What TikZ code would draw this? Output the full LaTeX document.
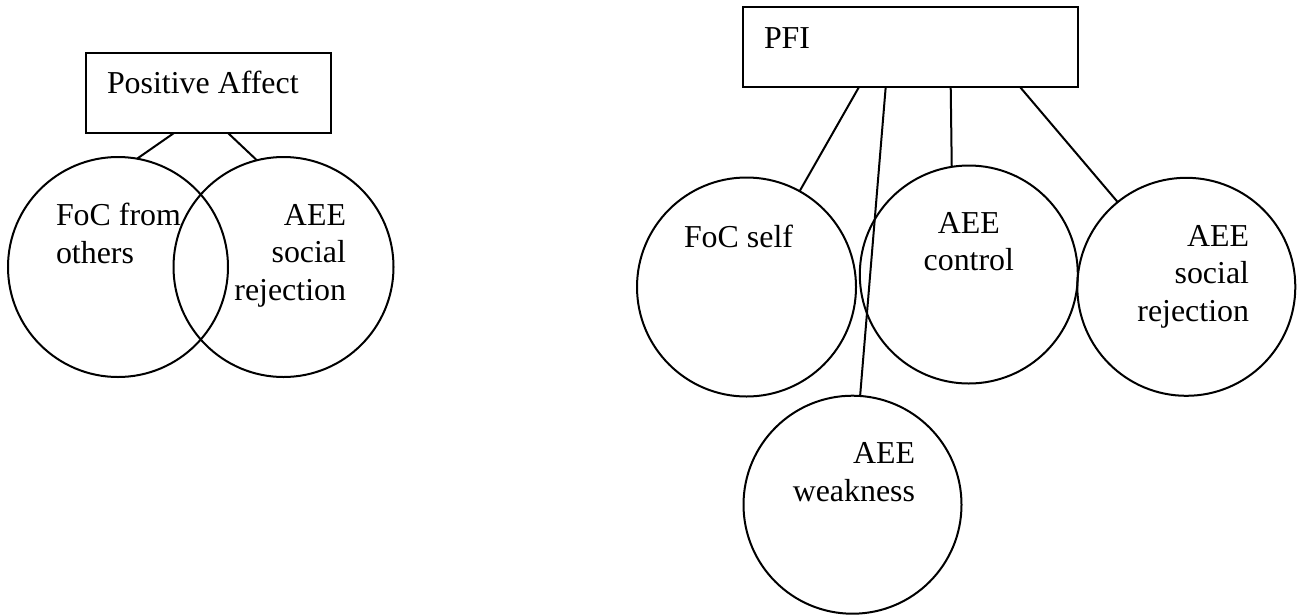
\documentclass[tikz,border=0pt]{standalone}
\usepackage{fontspec}
\setmainfont{Liberation Serif}
\begin{document}
\begin{tikzpicture}[x=1pt,y=-1pt,line width=2pt,
  bubble/.style={circle,draw,inner sep=0pt,outer sep=0pt,minimum size=#1},
  factor/.style={rectangle,draw,inner sep=0pt,outer sep=0pt,minimum width=#1,minimum height=80pt},
  txt/.style={inner sep=0pt,outer sep=0pt,font=\fontsize{31.9pt}{37.3pt}\selectfont},
  link/.style={draw,line width=2pt}]
\useasboundingbox (0,0) rectangle (1297,614);
% left group
\node[factor=245pt] (pa) at (208.5,93) {};
\node[bubble=220pt] (foco) at (118,267) {};
\node[bubble=220pt] (aeel) at (283.5,267) {};
% right group
\node[factor=335pt] (pfi) at (910.5,47) {};
\node[bubble=219pt] (focs) at (746.5,287) {};
\node[bubble=218pt] (ctrl) at (968.8,274.5) {};
\node[bubble=218pt] (aeer) at (1186.3,286.8) {};
\node[bubble=218pt] (weak) at (852.5,504.7) {};
% texts (base anchor = baseline of last line)
\node[txt,anchor=base west,align=left] (t1) at (107,93) {Positive Affect};
\node[txt,anchor=base west] (t2) at (764,48) {PFI};
\node[txt,anchor=base west,align=left] (t3) at (56,263) {FoC from\\others};
\node[txt,anchor=base east,align=right] (t4) at (346,300) {AEE\\social\\rejection};
\node[txt,anchor=base west] (t5) at (684,247.3) {FoC self};
\node[txt,anchor=base,align=center] (t6) at (968.8,270.7) {AEE\\control};
\node[txt,anchor=base east,align=right] (t7) at (1249,321) {AEE\\social\\rejection};
\node[txt,anchor=base east,align=right] (t8) at (915,501) {AEE\\weakness};
% connector start points on box bottoms
\coordinate (pa1) at (174,133);
\coordinate (pa2) at (228,133);
\coordinate (p1) at (859,87);
\coordinate (p2) at (885.7,87);
\coordinate (p3) at (950.7,87);
\coordinate (p4) at (1020,87);
\path[link] (pa1) -- (foco.80);
\path[link] (pa2) -- (aeel.104);
\path[link] (p1) -- (focs.61.4);
\path[link] (p2) -- (weak.86.4);
\path[link] (p3) -- (ctrl.99.6);
\path[link] (p4) -- (aeer.129.5);
\end{tikzpicture}
\end{document}
